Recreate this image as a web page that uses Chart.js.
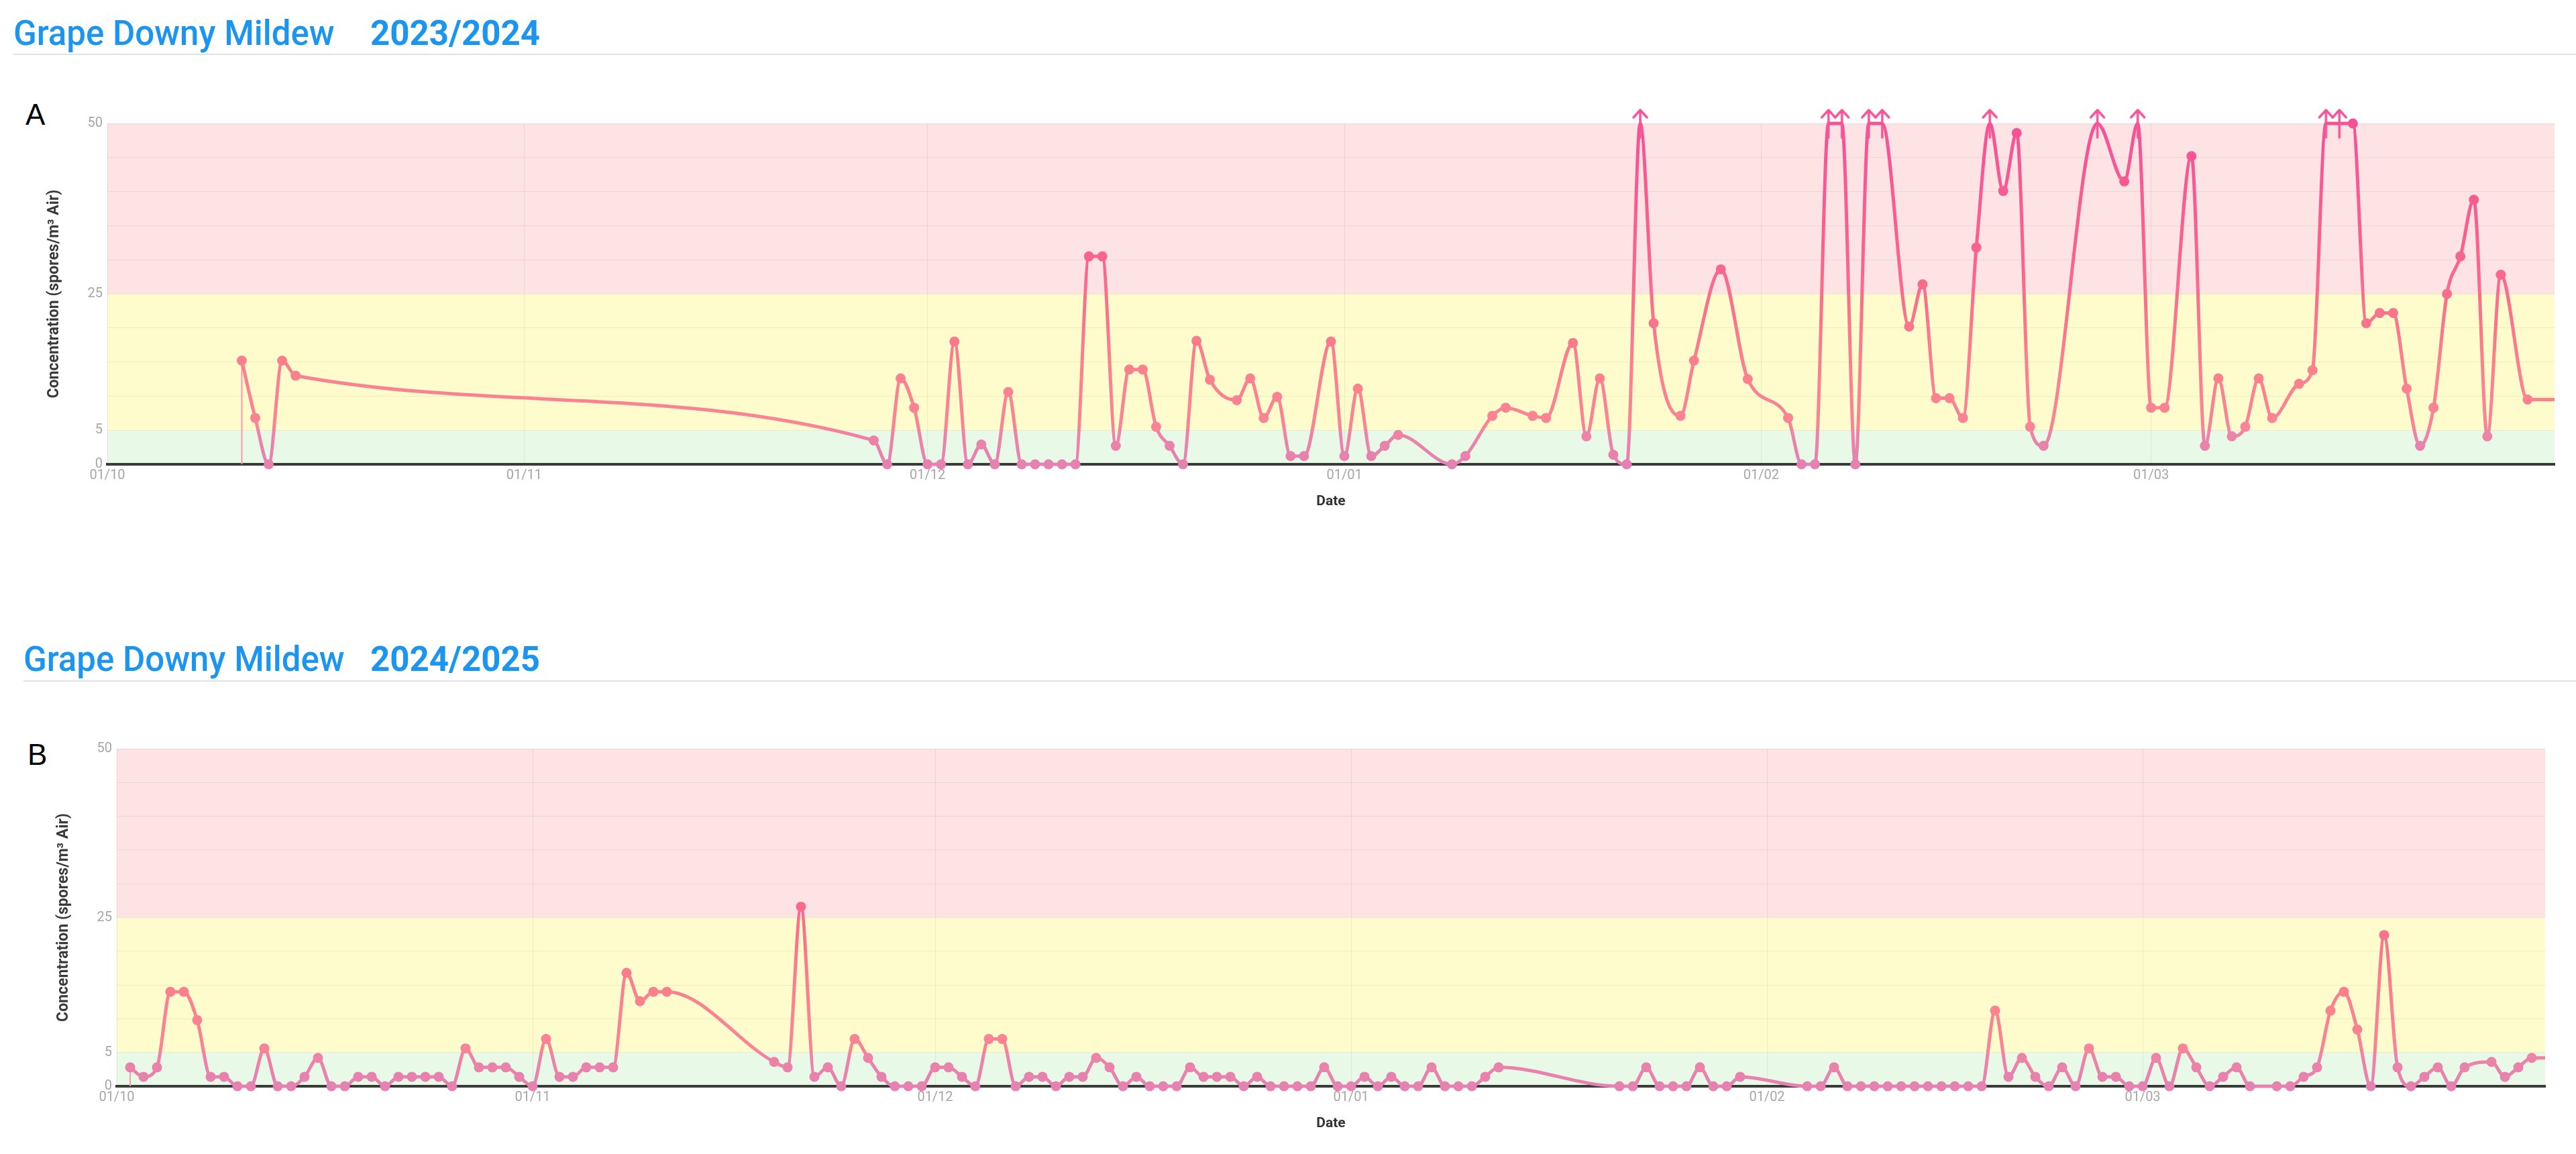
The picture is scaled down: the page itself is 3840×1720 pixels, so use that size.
<!DOCTYPE html>
<html>
<head>
<meta charset="utf-8">
<script src="https://cdn.jsdelivr.net/npm/chart.js@4.4.1/dist/chart.umd.min.js"></script>
<style>
  html, body { margin: 0; padding: 0; background: #fff; }
  body { width: 3840px; height: 1720px; position: relative; overflow: hidden; font-family: Roboto, sans-serif; }
  .title { position: absolute; font-size: 51px; line-height: 51px; color: #1b95f0; font-weight: 500; white-space: nowrap; }
  .year { position: absolute; font-size: 51px; line-height: 51px; color: #1b95f0; font-weight: 700; white-space: nowrap; }
  .rule { position: absolute; height: 2px; background: #e2e2e2; }
  .panel { position: absolute; font-family: 'Liberation Sans', Arial, sans-serif; font-size: 44px; line-height: 44px; color: #000; }
  canvas { position: absolute; }
</style>
</head>
<body>
<div class="title" style="left:20px; top:24px;">Grape Downy Mildew</div>
<div class="year" style="left:552px; top:24px;">2023/2024</div>
<div class="rule" style="left:20px; top:80px; width:3820px;"></div>
<div class="panel" style="left:38px; top:149px;">A</div>
<canvas id="chartA" width="3840" height="632" style="left:0px; top:140px;"></canvas>

<div class="title" style="left:35px; top:957px;">Grape Downy Mildew</div>
<div class="year" style="left:552px; top:957px;">2024/2025</div>
<div class="rule" style="left:35px; top:1014px; width:3805px;"></div>
<div class="panel" style="left:41px; top:1103px;">B</div>
<canvas id="chartB" width="3826" height="629" style="left:14px; top:1070px;"></canvas>

<script>
// season 2023/2024
const datesA = [
  '2023-10-11','2023-10-12','2023-10-13','2023-10-14','2023-10-15',
  '2023-11-27','2023-11-28','2023-11-29','2023-11-30',
  '2023-12-01','2023-12-02','2023-12-03','2023-12-04','2023-12-05','2023-12-06','2023-12-07',
  '2023-12-08','2023-12-09','2023-12-10','2023-12-11','2023-12-12','2023-12-13','2023-12-14',
  '2023-12-15','2023-12-16','2023-12-17','2023-12-18','2023-12-19','2023-12-20','2023-12-21',
  '2023-12-22','2023-12-24','2023-12-25','2023-12-26','2023-12-27','2023-12-28','2023-12-29','2023-12-31',
  '2024-01-01','2024-01-02','2024-01-03','2024-01-04','2024-01-05','2024-01-09','2024-01-10',
  '2024-01-12','2024-01-13','2024-01-15','2024-01-16','2024-01-18','2024-01-19','2024-01-20',
  '2024-01-21','2024-01-22','2024-01-23','2024-01-24','2024-01-26','2024-01-27','2024-01-29','2024-01-31',
  '2024-02-03','2024-02-04','2024-02-05','2024-02-06','2024-02-07','2024-02-08','2024-02-09',
  '2024-02-10','2024-02-12','2024-02-13','2024-02-14','2024-02-15','2024-02-16','2024-02-17',
  '2024-02-18','2024-02-19','2024-02-20','2024-02-21','2024-02-22','2024-02-26','2024-02-28','2024-02-29',
  '2024-03-01','2024-03-02','2024-03-04','2024-03-05','2024-03-06','2024-03-07','2024-03-08',
  '2024-03-09','2024-03-10','2024-03-12','2024-03-13','2024-03-14','2024-03-15','2024-03-16',
  '2024-03-17','2024-03-18','2024-03-19','2024-03-20','2024-03-21','2024-03-22','2024-03-23',
  '2024-03-24','2024-03-25','2024-03-26','2024-03-27','2024-03-29','2024-04-01'
];
const valuesA = [
  15.2, 6.8, 0, 15.2, 13.0,
  3.5, 0, 12.6, 8.3,
  0, 0, 18.0, 0, 2.9, 0, 10.6,
  0, 0, 0, 0, 0, 30.5, 30.5,
  2.7, 13.9, 13.9, 5.5, 2.7, 0, 18.1,
  12.4, 9.4, 12.6, 6.8, 9.9, 1.2, 1.2, 18.0,
  1.2, 11.1, 1.2, 2.7, 4.3, 0, 1.2,
  7.1, 8.3, 7.1, 6.8, 17.8, 4.1, 12.6,
  1.4, 0, 60, 20.7, 7.1, 15.2, 28.6, 12.5,
  6.8, 0, 0, 60, 60, 0, 60,
  60, 20.2, 26.4, 9.7, 9.7, 6.8, 31.8,
  60, 40.1, 48.6, 5.5, 2.7, 60, 41.5, 60,
  8.3, 8.3, 45.2, 2.7, 12.6, 4.1, 5.5,
  12.6, 6.8, 11.8, 13.8, 60, 60, 50,
  20.7, 22.2, 22.2, 11.1, 2.7, 8.3, 25.0,
  30.5, 38.8, 4.1, 27.8, 9.5, 9.5
];
const monthsA = ['2023-10-01','2023-11-01','2023-12-01','2024-01-01','2024-02-01','2024-03-01'];
const rangeA = ['2023-10-01', '2024-03-31'];

// season 2024/2025
const datesB = [
  '2024-10-02','2024-10-03','2024-10-04','2024-10-05','2024-10-06','2024-10-07','2024-10-08',
  '2024-10-09','2024-10-10','2024-10-11','2024-10-12','2024-10-13','2024-10-14','2024-10-15',
  '2024-10-16','2024-10-17','2024-10-18','2024-10-19','2024-10-20','2024-10-21','2024-10-22',
  '2024-10-23','2024-10-24','2024-10-25','2024-10-26','2024-10-27','2024-10-28','2024-10-29',
  '2024-10-30','2024-10-31',
  '2024-11-01','2024-11-02','2024-11-03','2024-11-04','2024-11-05','2024-11-06','2024-11-07',
  '2024-11-08','2024-11-09','2024-11-10','2024-11-11','2024-11-19','2024-11-20','2024-11-21',
  '2024-11-22','2024-11-23','2024-11-24','2024-11-25','2024-11-26','2024-11-27','2024-11-28',
  '2024-11-29','2024-11-30',
  '2024-12-01','2024-12-02','2024-12-03','2024-12-04','2024-12-05','2024-12-06','2024-12-07',
  '2024-12-08','2024-12-09','2024-12-10','2024-12-11','2024-12-12','2024-12-13','2024-12-14',
  '2024-12-15','2024-12-16','2024-12-17','2024-12-18','2024-12-19','2024-12-20','2024-12-21',
  '2024-12-22','2024-12-23','2024-12-24','2024-12-25','2024-12-26','2024-12-27','2024-12-28',
  '2024-12-29','2024-12-30','2024-12-31',
  '2025-01-01','2025-01-02','2025-01-03','2025-01-04','2025-01-05','2025-01-06','2025-01-07',
  '2025-01-08','2025-01-09','2025-01-10','2025-01-11','2025-01-12','2025-01-21','2025-01-22',
  '2025-01-23','2025-01-24','2025-01-25','2025-01-26','2025-01-27','2025-01-28','2025-01-29','2025-01-30',
  '2025-02-04','2025-02-05','2025-02-06','2025-02-07','2025-02-08','2025-02-09','2025-02-10',
  '2025-02-11','2025-02-12','2025-02-13','2025-02-14','2025-02-15','2025-02-16','2025-02-17',
  '2025-02-18','2025-02-19','2025-02-20','2025-02-21','2025-02-22','2025-02-23','2025-02-24',
  '2025-02-25','2025-02-26','2025-02-27','2025-02-28',
  '2025-03-01','2025-03-02','2025-03-03','2025-03-04','2025-03-05','2025-03-06','2025-03-07',
  '2025-03-08','2025-03-09','2025-03-11','2025-03-12','2025-03-13','2025-03-14','2025-03-15',
  '2025-03-16','2025-03-17','2025-03-18','2025-03-19','2025-03-20','2025-03-21','2025-03-22',
  '2025-03-23','2025-03-24','2025-03-25','2025-03-27','2025-03-28','2025-03-29','2025-03-30',
  '2025-04-01'
];
const valuesB = [
  2.8, 1.4, 2.8, 14.0, 14.0, 9.8, 1.4,
  1.4, 0, 0, 5.6, 0, 0, 1.4,
  4.2, 0, 0, 1.4, 1.4, 0, 1.4,
  1.4, 1.4, 1.4, 0, 5.6, 2.8, 2.8,
  2.8, 1.4,
  0, 7.0, 1.4, 1.4, 2.8, 2.8, 2.8,
  16.8, 12.6, 14.0, 14.0, 3.6, 2.8, 26.6,
  1.4, 2.8, 0, 7.0, 4.2, 1.4, 0,
  0, 0,
  2.8, 2.8, 1.4, 0, 7.0, 7.0, 0,
  1.4, 1.4, 0, 1.4, 1.4, 4.2, 2.8,
  0, 1.4, 0, 0, 0, 2.8, 1.4,
  1.4, 1.4, 0, 1.4, 0, 0, 0,
  0, 2.8, 0,
  0, 1.4, 0, 1.4, 0, 0, 2.8,
  0, 0, 0, 1.4, 2.8, 0, 0,
  2.8, 0, 0, 0, 2.8, 0, 0, 1.4,
  0, 0, 2.8, 0, 0, 0, 0,
  0, 0, 0, 0, 0, 0, 0,
  11.2, 1.4, 4.2, 1.4, 0, 2.8, 0,
  5.6, 1.4, 1.4, 0,
  0, 4.2, 0, 5.6, 2.8, 0, 1.4,
  2.8, 0, 0, 0, 1.4, 2.8, 11.2,
  14.0, 8.4, 0, 22.4, 2.8, 0, 1.4,
  2.8, 0, 2.8, 3.6, 1.4, 2.8, 4.2,
  4.2
];
const monthsB = ['2024-10-01','2024-11-01','2024-12-01','2025-01-01','2025-02-01','2025-03-01'];
const rangeB = ['2024-10-01', '2025-03-31'];

const yTickLabels = [0, 5, 25, 50];
const yMax = 50;
const bandLimits = [0, 5, 25, 50];

const bandColors = ['#e9f9e7', '#fefccd', '#fde3e4'];
const shadeStops = [
  [0, [229, 130, 178]],
  [0.08, [236, 131, 168]],
  [0.12, [250, 132, 148]],
  [0.3, [251, 128, 140]],
  [0.6, [249, 100, 140]],
  [1, [245, 82, 150]]
];

function shadeAt(f) {
  f = Math.max(0, Math.min(1, f));
  for (let i = 1; i < shadeStops.length; i++) {
    const [p1, c1] = shadeStops[i];
    const [p0, c0] = shadeStops[i - 1];
    if (f <= p1) {
      const t = (f - p0) / (p1 - p0);
      const c = c0.map((v, k) => Math.round(v + (c1[k] - v) * t));
      return 'rgb(' + c.join(',') + ')';
    }
  }
  return 'rgb(' + shadeStops[shadeStops.length - 1][1].join(',') + ')';
}

function lineGradient(context) {
  const chart = context.chart;
  const area = chart.chartArea;
  if (!area) return 'rgb(248,128,150)';
  const g = chart.ctx.createLinearGradient(0, area.bottom, 0, area.top);
  shadeStops.forEach(s => g.addColorStop(s[0], 'rgb(' + s[1].join(',') + ')'));
  return g;
}

function makeArrow(color) {
  const c = document.createElement('canvas');
  c.width = 28;
  c.height = 46;
  const g = c.getContext('2d');
  g.strokeStyle = color;
  g.lineWidth = 3.5;
  g.lineCap = 'round';
  g.lineJoin = 'round';
  g.beginPath();
  g.moveTo(14, 3);
  g.lineTo(14, 44);
  g.moveTo(4, 14);
  g.lineTo(14, 3);
  g.lineTo(24, 14);
  g.stroke();
  return c;
}
const arrowImg = makeArrow('#f4559a');

function dayMonth(ts) {
  const d = new Date(ts);
  return String(d.getUTCDate()).padStart(2, '0') + '/' + String(d.getUTCMonth() + 1).padStart(2, '0');
}

const bandsPlugin = {
  id: 'bands',
  beforeDraw(chart) {
    const {ctx, chartArea: a, scales: {y}} = chart;
    ctx.save();
    for (let i = 0; i < bandColors.length; i++) {
      const top = y.getPixelForValue(bandLimits[i + 1]);
      const bottom = y.getPixelForValue(bandLimits[i]);
      ctx.fillStyle = bandColors[i];
      ctx.fillRect(a.left, top, a.right - a.left, bottom - top);
    }
    ctx.restore();
  }
};

function makeChart(id, dates, values, months, range, pad) {
  const points = dates.map((d, i) => ({
    x: Date.parse(d),
    y: Math.min(values[i], yMax),
    over: values[i] > yMax
  }));
  const startLine = [
    {x: points[0].x, y: 0},
    {x: points[0].x, y: points[0].y}
  ];

  return new Chart(document.getElementById(id), {
    type: 'line',
    data: {
      datasets: [
        {
          data: points,
          borderColor: lineGradient,
          borderWidth: 5,
          cubicInterpolationMode: 'monotone',
          pointRadius: 7.5,
          pointHoverRadius: 7.5,
          pointBorderWidth: 0,
          pointStyle: ctx => (ctx.raw && ctx.raw.over) ? arrowImg : 'circle',
          pointBackgroundColor: ctx => shadeAt(ctx.raw ? ctx.raw.y / yMax : 0),
          pointBorderColor: ctx => shadeAt(ctx.raw ? ctx.raw.y / yMax : 0),
          clip: {left: 10, top: false, right: 0, bottom: 10}
        },
        {
          data: startLine,
          borderColor: '#f59ab0',
          borderWidth: 2,
          pointRadius: 0,
          tension: 0
        }
      ]
    },
    options: {
      responsive: false,
      animation: false,
      events: [],
      layout: {padding: pad},
      plugins: {
        legend: {display: false},
        tooltip: {enabled: false}
      },
      scales: {
        x: {
          type: 'linear',
          min: Date.parse(range[0]),
          max: Date.parse(range[1]),
          afterBuildTicks: s => { s.ticks = months.map(m => ({value: Date.parse(m)})); },
          afterFit: s => { s.height = 80; },
          ticks: {
            callback: v => dayMonth(v),
            color: '#a6a6a6',
            font: {size: 20},
            padding: 5,
            autoSkip: false,
            maxRotation: 0
          },
          grid: {color: 'rgba(0,0,0,0.07)', drawTicks: false},
          border: {color: '#3a3a3a', width: 4},
          title: {
            display: true,
            text: 'Date',
            color: '#333',
            font: {size: 21, weight: 'bold'},
            padding: {top: 0, bottom: 12}
          }
        },
        y: {
          min: 0,
          max: yMax,
          afterFit: s => { s.width = 100; },
          ticks: {
            stepSize: 5,
            callback: v => yTickLabels.includes(v) ? String(v) : '',
            color: '#a6a6a6',
            font: {size: 20},
            padding: 7
          },
          grid: {color: 'rgba(0,0,0,0.06)', drawTicks: false},
          border: {display: false},
          title: {
            display: true,
            text: 'Concentration (spores/m³ Air)',
            color: '#3a3a3a',
            font: {size: 23, weight: 'bold'},
            padding: {top: 7, bottom: 0}
          }
        }
      }
    },
    plugins: [bandsPlugin]
  });
}

Chart.defaults.font.family = 'Roboto, sans-serif';

makeChart('chartA', datesA, valuesA, monthsA, rangeA, {top: 44, left: 60, right: 32, bottom: 0});
makeChart('chartB', datesB, valuesB, monthsB, rangeB, {top: 46, left: 60, right: 46, bottom: 0});
</script>
</body>
</html>
